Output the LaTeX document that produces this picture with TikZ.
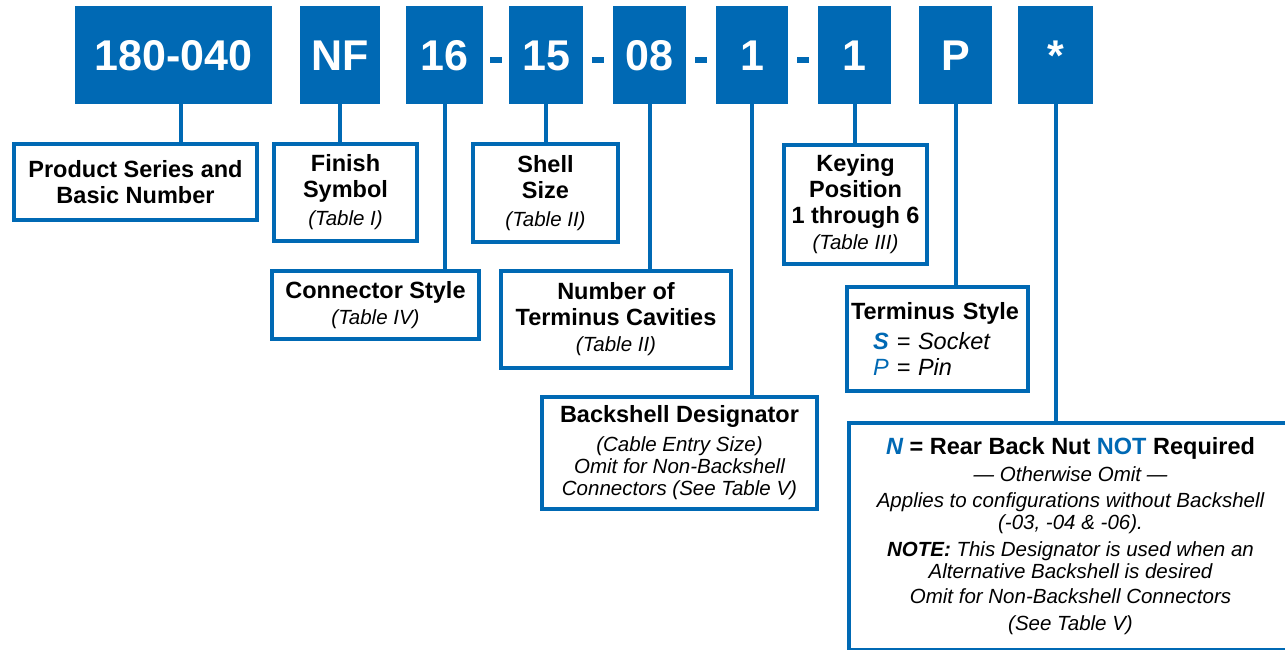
\documentclass[tikz,border=0pt]{standalone}
\usepackage{fontspec}
\setmainfont{Liberation Sans}
\usetikzlibrary{positioning,calc}
\definecolor{azul}{RGB}{0,105,180}
\newcommand{\codigofont}{\fontsize{43}{46}\selectfont\bfseries}
\newcommand{\titulofont}{\fontsize{23.5}{26}\selectfont\bfseries\upshape}
\newcommand{\notafont}{\fontsize{20.5}{22}\selectfont\mdseries\itshape}
\tikzset{
  codigo/.style={rectangle,fill=azul,text=white,font=\codigofont,anchor=north west,
    inner sep=0pt,minimum height=98pt,text height=31pt,text depth=0pt},
  caja/.style={rectangle,draw=azul,line width=4pt,fill=white,align=center,
    anchor=north west,inner sep=0pt,font=\titulofont},
  guion/.style={rectangle,fill=azul,minimum width=12pt,minimum height=6pt,inner sep=0pt},
  linea/.style={azul,line width=4pt},
}

\begin{document}
\begin{tikzpicture}[x=1pt,y=-1pt]
  \useasboundingbox (0,0) rectangle (1285,650);
  % part number fields
  \node[codigo,minimum width=197pt] (c1) at (75,6) {180-040};
  \node[codigo,minimum width=80pt] (c2) at (300,6) {NF};
  \node[codigo,minimum width=77pt] (c3) at (406,6) {16};
  \node[codigo,minimum width=74pt] (c4) at (509,6) {15};
  \node[codigo,minimum width=73pt] (c5) at (613,6) {08};
  \node[codigo,minimum width=72pt] (c6) at (716,6) {1};
  \node[codigo,minimum width=73pt] (c7) at (818,6) {1};
  \node[codigo,minimum width=73pt] (c8) at (919,6) {P};
  \node[codigo,minimum width=75pt] (c9) at (1018,6) {*};
  \foreach \a/\b [count=\i] in {c3/c4,c4/c5,c5/c6,c6/c7}
    \node[guion] (g\i) at ($(\a.east)!0.5!(\b.west)+(0,5)$) {};

  % explanation boxes
  \node[caja,minimum width=243pt,minimum height=76pt] (prod) at (12,142)
    {Product Series and\\Basic Number};
  \node[caja,minimum width=143pt,minimum height=97pt] (fin) at (272,142)
    {Finish\\Symbol\\[2pt]{\notafont(Table I)}};
  \node[caja,minimum width=145pt,minimum height=98pt] (shell) at (471,142)
    {Shell\\Size\\[2pt]{\notafont(Table II)}};
  \node[caja,minimum width=207pt,minimum height=68pt] (con) at (270,269)
    {Connector Style\\{\notafont(Table IV)}};
  \node[caja,minimum width=230pt,minimum height=97pt] (num) at (499,269)
    {Number of\\Terminus Cavities\\{\notafont(Table II)}};
  \node[caja,minimum width=275pt,minimum height=112pt,font=\notafont] (back) at (540,395)
    {{\titulofont Backshell Designator}\\[7pt](Cable Entry Size)\\Omit for Non-Backshell\\Connectors (See Table V)};
  \node[caja,minimum width=143pt,minimum height=119pt] (key) at (782,143)
    {Keying\\Position\\1 through 6\\{\notafont(Table III)}};
  \node[caja,minimum width=181pt,minimum height=104pt,align=left,text width=173pt] (term) at (845,285)
    {Terminus Style\\[4pt]\hspace*{22pt}{\mdseries\itshape\textcolor{azul}{\bfseries S} = Socket}\\
     \hspace*{22pt}{\mdseries\itshape\textcolor{azul}{P} = Pin}};
  \node[caja,minimum width=443pt,minimum height=227pt,font=\notafont] (nota) at (847,421)
    {{\titulofont\textcolor{azul}{\itshape N} = Rear Back Nut \textcolor{azul}{NOT} Required}\\[5pt]
     — Otherwise Omit —\\[4pt]
     Applies to configurations without Backshell\\
     (-03, -04 \& -06).\\[5pt]
     {\bfseries NOTE:} This Designator is used when an\\
     Alternative Backshell is desired\\[3pt]
     Omit for Non-Backshell Connectors\\[5pt]
     (See Table V)};

  % leader lines
  \coordinate (l1) at ([xshift=7pt]c1.south);
  \draw[linea] (l1) -- (l1 |- prod.north);
  \foreach \a/\b in {c2/fin,c3/con,c4/shell,c5/num,c6/back,c7/key,c8/term,c9/nota}
    \draw[linea] (\a.south) -- (\a.south |- \b.north);
\end{tikzpicture}
\end{document}
